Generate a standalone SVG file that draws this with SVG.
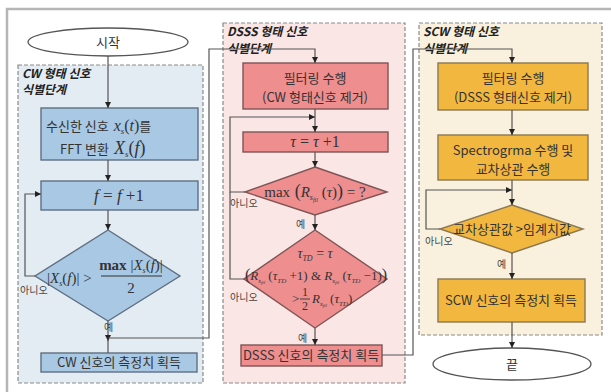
<svg xmlns="http://www.w3.org/2000/svg" width="611" height="392" viewBox="0 0 611 392">
<defs>
<marker id="ah" markerUnits="userSpaceOnUse" markerWidth="7" markerHeight="7" refX="6" refY="3" orient="auto"><path d="M0,0 L6,3 L0,6 z" fill="#222"/></marker>
<style>
.frame{fill:#fff;stroke:#b5b5b5;stroke-width:2.5}
.panel{stroke:#8a8a8a;stroke-width:1.2;stroke-dasharray:4 2}
.cw{fill:#a9c8e3;stroke:#5f6f80;stroke-width:1.4}
.ds{fill:#ef8e8f;stroke:#7d5555;stroke-width:1.4}
.sc{fill:#f2b73f;stroke:#8a7855;stroke-width:1.4}
.term{fill:#fff;stroke:#555;stroke-width:1.3}
.ln{fill:none;stroke:#555;stroke-width:1.2}
.kr{font-family:"Noto Sans CJK KR","Noto Sans",sans-serif;font-size:13px;fill:#333}
.sm{font-family:"Noto Sans CJK KR","Noto Sans",sans-serif;font-size:10px;fill:#444}
.ttl{font-family:"Noto Sans CJK KR","Noto Sans",sans-serif;font-size:12px;font-weight:bold;font-style:italic;fill:#222}
.m{font-family:"Liberation Serif",serif;font-style:italic;fill:#333}
.u{font-style:normal}
</style>
</defs>
<rect class="frame" x="7" y="9" width="620" height="400"/>

<g id="panel-cw">
<rect class="panel" x="18" y="65" width="185" height="318" fill="#e4ecf3"/>
<text class="ttl" x="22" y="78">CW 형태 신호</text>
<text class="ttl" x="22" y="94">식별단계</text>
</g>
<g id="panel-dsss">
<rect class="panel" x="223" y="23" width="182" height="360" fill="#fbe6e6"/>
<text class="ttl" x="227" y="36">DSSS 형태 신호</text>
<text class="ttl" x="227" y="53">식별단계</text>
</g>
<g id="panel-scw">
<rect class="panel" x="419" y="23" width="183" height="312" fill="#f9f1dd"/>
<text class="ttl" x="423" y="36">SCW 형태 신호</text>
<text class="ttl" x="423" y="53">식별단계</text>
</g>

<g id="start">
<ellipse class="term" cx="108" cy="42" rx="80" ry="14"/>
<text class="kr" x="108" y="47" text-anchor="middle" font-size="14">시작</text>
</g>

<g id="cw-fft">
<rect class="cw" x="41" y="108" width="157" height="52"/>
<text class="kr" x="46" y="131">수신한 신호 <tspan class="m" font-size="16" dx="2">x</tspan><tspan class="m" font-size="9" dy="3">s</tspan><tspan class="m u" font-size="16" dy="-3">(</tspan><tspan class="m" font-size="16">t</tspan><tspan class="m u" font-size="16">)</tspan>를</text>
<text class="kr" x="60" y="154">FFT 변환 <tspan class="m" font-size="18" dx="2">X</tspan><tspan class="m" font-size="9" dy="3">s</tspan><tspan class="m u" font-size="18" dy="-3">(</tspan><tspan class="m" font-size="18">f</tspan><tspan class="m u" font-size="18">)</tspan></text>
</g>

<g id="cw-inc">
<rect class="cw" x="41" y="181" width="157" height="29"/>
<text class="m" x="119" y="201" font-size="17" text-anchor="middle">f <tspan class="u">=</tspan> f <tspan class="u">+1</tspan></text>
</g>

<g id="cw-dec">
<polygon class="cw" points="108,230 180,276 108,321 35,276"/>
<text class="m" x="47" y="283" font-size="15"><tspan class="u">|</tspan>X<tspan font-size="8" dy="3">s</tspan><tspan class="u" dy="-3">(</tspan>f<tspan class="u">)|</tspan><tspan class="u"> &gt;</tspan></text>
<text class="m" x="131" y="270" font-size="15" text-anchor="middle"><tspan class="u" font-weight="bold">max</tspan><tspan class="u"> |</tspan>X<tspan font-size="8" dy="3">s</tspan><tspan class="u" dy="-3">(</tspan>f<tspan class="u">)|</tspan></text>
<line x1="101" y1="276" x2="162" y2="276" stroke="#333" stroke-width="1"/>
<text class="m u" x="131" y="293" font-size="15" text-anchor="middle">2</text>
</g>

<g id="cw-out">
<rect class="cw" x="41" y="353" width="156" height="19"/>
<text class="kr" x="119" y="367" text-anchor="middle" font-size="12">CW 신호의 측정치 획득</text>
</g>

<g id="ds-filter">
<rect class="ds" x="243" y="63" width="145" height="46"/>
<text class="kr" x="315" y="83" text-anchor="middle">필터링 수행</text>
<text class="kr" x="315" y="102" text-anchor="middle">(CW 형태신호 제거)</text>
</g>

<g id="ds-inc">
<rect class="ds" x="243" y="132" width="145" height="20"/>
<text class="m" x="315" y="147" font-size="16" text-anchor="middle">τ <tspan class="u">=</tspan> τ <tspan class="u">+1</tspan></text>
</g>

<g id="ds-dec1">
<polygon class="ds" points="315,167 387,192 315,215 245,192"/>
<text class="m" x="315" y="197" font-size="15" text-anchor="middle"><tspan class="u">max</tspan><tspan class="u" font-size="18"> (</tspan>R<tspan font-size="8" dy="3">s</tspan><tspan font-size="6" dy="2">fil</tspan><tspan class="u" dy="-5"> (</tspan>τ<tspan class="u">)</tspan><tspan class="u" font-size="18">)</tspan><tspan class="u"> = ?</tspan></text>
</g>

<g id="ds-dec2">
<polygon class="ds" points="315,230 387,279 315,328 244,279"/>
<text class="m" x="315" y="258" font-size="14" text-anchor="middle">τ<tspan font-size="8" dy="3">TD</tspan><tspan class="u" dy="-3"> = </tspan>τ</text>
<text class="m" x="316" y="280" font-size="13" text-anchor="middle"><tspan class="u" font-size="16">(</tspan>R<tspan font-size="7" dy="3">s</tspan><tspan font-size="5" dy="1">fil</tspan><tspan class="u" dy="-4"> (</tspan>τ<tspan font-size="7" dy="3">TD</tspan><tspan class="u" dy="-3"> +1) &amp; </tspan>R<tspan font-size="7" dy="3">s</tspan><tspan font-size="5" dy="1">fil</tspan><tspan class="u" dy="-4"> (</tspan>τ<tspan font-size="7" dy="3">TD</tspan><tspan class="u" dy="-3"> −1)</tspan><tspan class="u" font-size="16">)</tspan></text>
<text class="m u" x="292" y="303" font-size="13">&gt;</text>
<text class="m u" x="305" y="296" font-size="12" text-anchor="middle">1</text>
<line x1="300" y1="299" x2="310" y2="299" stroke="#333" stroke-width="0.9"/>
<text class="m u" x="305" y="310" font-size="12" text-anchor="middle">2</text>
<text class="m" x="312" y="303" font-size="13">R<tspan font-size="7" dy="3">s</tspan><tspan font-size="5" dy="1">fil</tspan><tspan class="u" dy="-4"> (</tspan>τ<tspan font-size="7" dy="3">TD</tspan><tspan class="u" dy="-3">)</tspan></text>
</g>

<g id="ds-out">
<rect class="ds" x="241" y="345" width="141" height="21"/>
<text class="kr" x="311" y="360" text-anchor="middle" font-size="12">DSSS 신호의 측정치 획득</text>
</g>

<g id="sc-filter">
<rect class="sc" x="438" y="63" width="150" height="47"/>
<text class="kr" x="513" y="83" text-anchor="middle">필터링 수행</text>
<text class="kr" x="513" y="102" text-anchor="middle">(DSSS 형태신호 제거)</text>
</g>

<g id="sc-spec">
<rect class="sc" x="438" y="135" width="150" height="45"/>
<text class="kr" x="513" y="155" text-anchor="middle">Spectrogrma 수행 및</text>
<text class="kr" x="513" y="174" text-anchor="middle">교차상관 수행</text>
</g>

<g id="sc-dec">
<polygon class="sc" points="512,205 583,229 512,253 440,229"/>
<text class="kr" x="512" y="234" text-anchor="middle" font-size="12">교차상관값 &gt;임계치값</text>
</g>

<g id="sc-out">
<rect class="sc" x="438" y="279" width="147" height="43"/>
<text class="kr" x="511" y="305" text-anchor="middle" font-size="12">SCW 신호의 측정치 획득</text>
</g>

<g id="end">
<ellipse class="term" cx="512" cy="364" rx="79" ry="16"/>
<text class="kr" x="512" y="369" text-anchor="middle" font-size="14">끝</text>
</g>

<g id="connectors">
<path class="ln" d="M108,56 V108" marker-end="url(#ah)"/>
<path class="ln" d="M108,160 V181" marker-end="url(#ah)"/>
<path class="ln" d="M108,210 V230" marker-end="url(#ah)"/>
<path class="ln" d="M35,276 H25 V194 H41" marker-end="url(#ah)"/>
<path class="ln" d="M108,321 V341" marker-end="url(#ah)"/>
<path class="ln" d="M108,339 V353"/>
<path class="ln" d="M108,338 H209 V49 H315 V63" marker-end="url(#ah)"/>
<path class="ln" d="M315,109 V132" marker-end="url(#ah)"/>
<path class="ln" d="M245,192 H230 V117 H315" marker-end="url(#ah)"/>
<path class="ln" d="M244,279 H230 V192"/>
<path class="ln" d="M315,152 V167" marker-end="url(#ah)"/>
<path class="ln" d="M315,215 V230" marker-end="url(#ah)"/>
<path class="ln" d="M315,328 V345" marker-end="url(#ah)"/>
<path class="ln" d="M382,355 H413 V49 H512 V63" marker-end="url(#ah)"/>
<path class="ln" d="M512,110 V135" marker-end="url(#ah)"/>
<path class="ln" d="M512,180 V205" marker-end="url(#ah)"/>
<path class="ln" d="M440,229 H426 V190 H512" marker-end="url(#ah)"/>
<path class="ln" d="M512,253 V279" marker-end="url(#ah)"/>
<path class="ln" d="M512,322 V348" marker-end="url(#ah)"/>
<text class="sm" x="20" y="294">아니오</text>
<text class="sm" x="104" y="331">예</text>
<text class="sm" x="230" y="207">아니오</text>
<text class="sm" x="296" y="228">예</text>
<text class="sm" x="230" y="301">아니오</text>
<text class="sm" x="298" y="342">예</text>
<text class="sm" x="425" y="245">아니오</text>
<text class="sm" x="497" y="268">예</text>
</g>
</svg>
